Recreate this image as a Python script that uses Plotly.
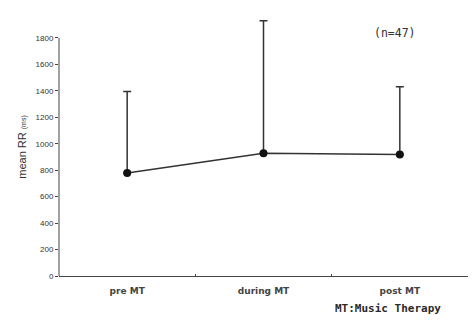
import plotly.graph_objects as go

categories = ["pre MT", "during MT", "post MT"]
mean_rr = [779, 928, 918]
sd_upper = [616, 1002, 512]
y_ticks = [0, 200, 400, 600, 800, 1000, 1200, 1400, 1600, 1800]

L, R, T, B = 59, 7, 18, 44
YMAX = 1950

fig = go.Figure()
fig.add_trace(go.Scatter(
    x=categories, y=mean_rr, mode="lines+markers",
    line=dict(color="#333333", width=1.5),
    marker=dict(color="#111111", size=8),
    error_y=dict(type="data", symmetric=False, array=sd_upper,
                 arrayminus=[0] * len(sd_upper),
                 color="#333333", thickness=1.5, width=4),
    cliponaxis=False, showlegend=False,
))

fig.update_layout(
    width=475, height=320,
    margin=dict(l=L, r=R, t=T, b=B, autoexpand=False),
    paper_bgcolor="white", plot_bgcolor="white",
    font=dict(family="Liberation Sans, Arial, sans-serif", color="#333333", size=8),
    xaxis=dict(type="category", range=[-0.5, 2.5], showline=True, linecolor="#444444",
               linewidth=1, ticks="inside", ticklen=2, tickson="boundaries",
               tickcolor="#444444", showgrid=False, automargin=False,
               tickfont=dict(size=9, color="#444444", family="DejaVu Sans, sans-serif",
                             weight="bold"),
               ticklabelstandoff=6),
    yaxis=dict(range=[0, YMAX], tickvals=y_ticks, showline=False,
               ticks="outside", ticklen=3, tickcolor="#444444", automargin=False,
               showgrid=False, zeroline=False, tickfont=dict(size=8),
               title=dict(text="mean RR <span style='font-size:7px'>(ms)</span>",
                          font=dict(size=11), standoff=6)),
    shapes=[dict(type="line", xref="paper", yref="y", x0=0, x1=0, y0=0, y1=1800,
                 line=dict(color="#444444", width=1))],
)

pw, ph = 475 - L - R, 320 - T - B


def px_ann(text, x, y, font):
    fig.add_annotation(text=text, x=(x - L) / pw, y=(320 - B - y) / ph,
                       xref="paper", yref="paper", xanchor="center", yanchor="middle",
                       showarrow=False, font=font)


px_ann("(n=47)", 395, 33,
       dict(size=11.5, color="#333333", family="DejaVu Sans Mono, monospace"))
px_ann("MT:Music Therapy", 388, 308,
       dict(size=11, color="#2a2a2a", family="DejaVu Sans Mono, monospace", weight="bold"))

fig.write_html("out.html", post_script="document.body.style.margin='0';",
               config={"displayModeBar": False})
